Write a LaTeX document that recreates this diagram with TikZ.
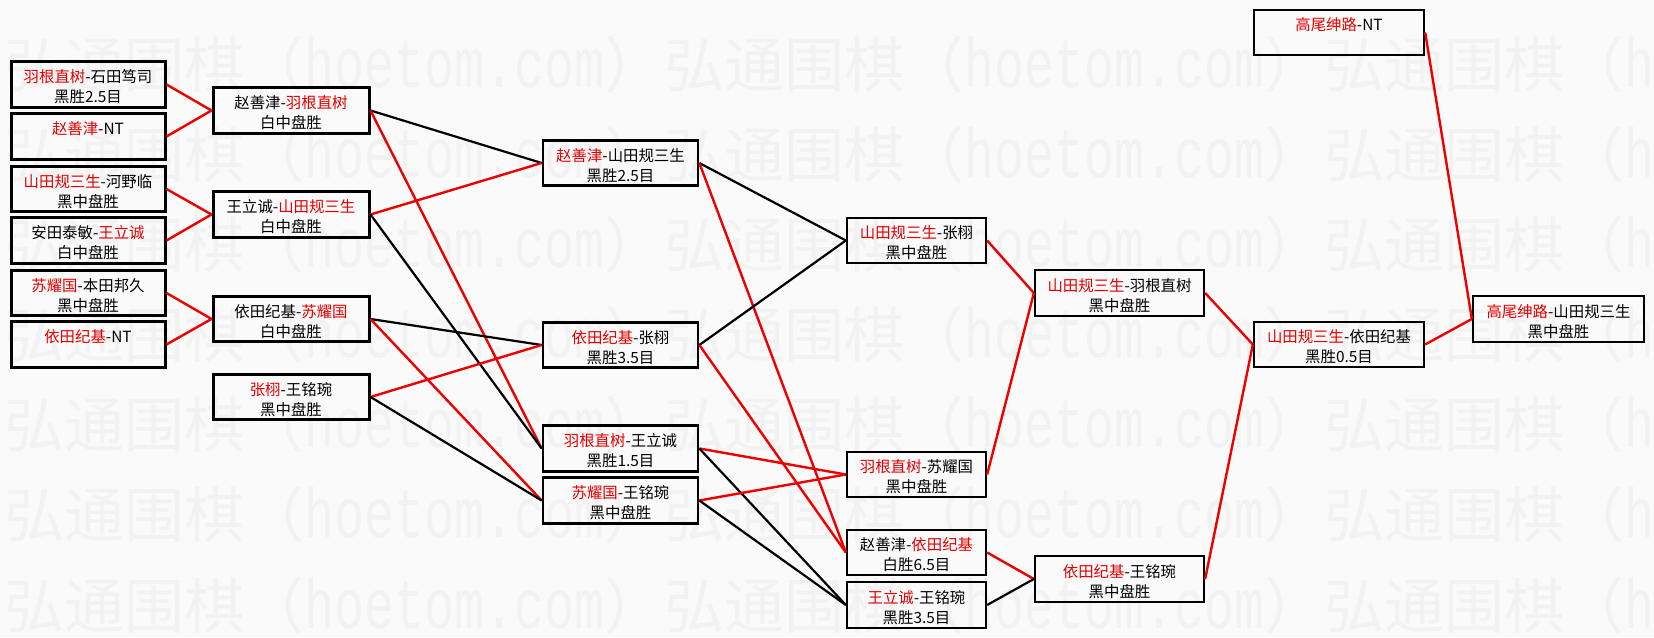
\documentclass[tikz,border=0pt]{standalone}
\usepackage{fontspec}
\usepackage{graphicx}
\setmainfont{Noto Sans CJK SC}
\newfontfamily\wmlatfont{Liberation Mono}
\definecolor{bg}{RGB}{250,250,250}
\definecolor{wm}{RGB}{242,242,242}
\definecolor{wred}{RGB}{228,0,0}
\definecolor{lred}{RGB}{238,0,0}
\newcommand{\ms}{\rule[-0.12em]{0pt}{1em}}
\newcommand{\R}[1]{\textcolor{wred}{#1}}
\newcommand{\wmunit}{弘通围棋（\scalebox{1}[1.4]{\wmlatfont\fontsize{50pt}{60pt}\selectfont hoetom.com}）}
\newcommand{\wmrow}{\fontsize{60pt}{60pt}\selectfont\wmunit\wmunit\wmunit}
\tikzset{
  bx/.style={draw=black, rectangle, inner sep=0pt, minimum height=45.5pt},
  bxa/.style={bx, line width=3pt},
  bxc/.style={bx, line width=2.7pt},
  bxd/.style={bx, line width=2.3pt},
  tx/.style={align=center, inner sep=0pt, font=\fontsize{15.4pt}{20pt}\selectfont},
  win/.style={draw=lred, line width=2.4pt},
  lose/.style={draw=black, line width=2.2pt},
  wmtext/.style={anchor=base west, inner sep=0pt, text=wm},
}
\newcommand{\gamebox}[7]{%
  \node[#1, minimum width=#5pt] (#2) at (#3,#4) {};
  \node[tx] (#2t) at ([yshift=-2.5pt]#2.center) {\ms #6\\\ms #7};
}
\begin{document}
\begin{tikzpicture}[x=1pt,y=1pt]
\useasboundingbox (0,0) rectangle (1654,637);
\fill[bg] (0,0) rectangle (1654,637);
% watermark
\begin{scope}
\clip (0,0) rectangle (1654,637);
\node[wmtext] (w1) at (4,549) {\wmrow};
\node[wmtext] (w2) at (4,459) {\wmrow};
\node[wmtext] (w3) at (4,369) {\wmrow};
\node[wmtext] (w4) at (4,279) {\wmrow};
\node[wmtext] (w5) at (4,189) {\wmrow};
\node[wmtext] (w6) at (4,99) {\wmrow};
\node[wmtext] (w7) at (4,9) {\wmrow};
\end{scope}
% round 1
\gamebox{bxa}{a1}{88}{552.5}{154}{\R{羽根直树}-石田笃司}{黑胜2.5目}
\gamebox{bxa}{a2}{88}{500.5}{154}{\R{赵善津}-NT}{}
\gamebox{bxa}{a3}{88}{448}{154}{\R{山田规三生}-河野临}{黑中盘胜}
\gamebox{bxa}{a4}{88}{396.5}{154}{安田泰敏-\R{王立诚}}{白中盘胜}
\gamebox{bxa}{a5}{88}{344}{154}{\R{苏耀国}-本田邦久}{黑中盘胜}
\gamebox{bxa}{a6}{88}{292.5}{154}{\R{依田纪基}-NT}{}
% round 2
\gamebox{bxa}{b1}{291}{526.5}{156}{赵善津-\R{羽根直树}}{白中盘胜}
\gamebox{bxa}{b2}{291}{422.5}{156}{王立诚-\R{山田规三生}}{白中盘胜}
\gamebox{bxa}{b3}{291}{318}{156}{依田纪基-\R{苏耀国}}{白中盘胜}
\gamebox{bxa}{b4}{291}{240}{156}{\R{张栩}-王铭琬}{黑中盘胜}
% round 3
\gamebox{bxc}{c1}{620.5}{474}{155}{\R{赵善津}-山田规三生}{黑胜2.5目}
\gamebox{bxc}{c2}{620.5}{292}{155}{\R{依田纪基}-张栩}{黑胜3.5目}
\gamebox{bxc}{c3}{620.5}{188.5}{155}{\R{羽根直树}-王立诚}{黑胜1.5目}
\gamebox{bxc}{c4}{620.5}{136.5}{155}{\R{苏耀国}-王铭琬}{黑中盘胜}
% round 4
\gamebox{bxd}{d1}{916.5}{396.5}{139}{\R{山田规三生}-张栩}{黑中盘胜}
\gamebox{bxd}{d3}{916.5}{162.5}{139}{\R{羽根直树}-苏耀国}{黑中盘胜}
\gamebox{bxd}{d4}{916.5}{84.5}{139}{赵善津-\R{依田纪基}}{白胜6.5目}
\gamebox{bxd}{d5}{916.5}{32}{139}{\R{王立诚}-王铭琬}{黑胜3.5目}
% round 5
\gamebox{bxd}{e1}{1119.5}{344}{169}{\R{山田规三生}-羽根直树}{黑中盘胜}
\gamebox{bxd}{e2}{1119.5}{58}{169}{\R{依田纪基}-王铭琬}{黑中盘胜}
% round 6
\gamebox{bxd}{f1}{1339}{292.5}{170}{\R{山田规三生}-依田纪基}{黑胜0.5目}
\gamebox{bxd}{h1}{1339}{604.5}{170}{\R{高尾绅路}-NT}{}
\gamebox{bxd}{g1}{1558.5}{318}{171}{\R{高尾绅路}-山田规三生}{黑中盘胜}
% connectors
\draw[win] (a1.east) -- (b1.west);
\draw[win] (a2.east) -- (b1.west);
\draw[win] (a3.east) -- (b2.west);
\draw[win] (a4.east) -- (b2.west);
\draw[win] (a5.east) -- (b3.west);
\draw[win] (a6.east) -- (b3.west);
\draw[lose] (b1.east) -- (c1.west);
\draw[win] (b1.east) -- (c3.west);
\draw[win] (b2.east) -- (c1.west);
\draw[lose] (b2.east) -- (c3.west);
\draw[lose] (b3.east) -- (c2.west);
\draw[win] (b3.east) -- (c4.west);
\draw[win] (b4.east) -- (c2.west);
\draw[lose] (b4.east) -- (c4.west);
\draw[lose] (c1.east) -- (d1.west);
\draw[win] (c1.east) -- (d4.west);
\draw[lose] (c2.east) -- (d1.west);
\draw[win] (c2.east) -- (d4.west);
\draw[win] (c3.east) -- (d3.west);
\draw[lose] (c3.east) -- (d5.west);
\draw[win] (c4.east) -- (d3.west);
\draw[lose] (c4.east) -- (d5.west);
\draw[win] (d1.east) -- (e1.west);
\draw[win] (d3.east) -- (e1.west);
\draw[win] (d4.east) -- (e2.west);
\draw[lose] (d5.east) -- (e2.west);
\draw[win] (e1.east) -- (f1.west);
\draw[win] (e2.east) -- (f1.west);
\draw[win] (f1.east) -- (g1.west);
\draw[win] (h1.east) -- (g1.west);
\end{tikzpicture}
\end{document}
